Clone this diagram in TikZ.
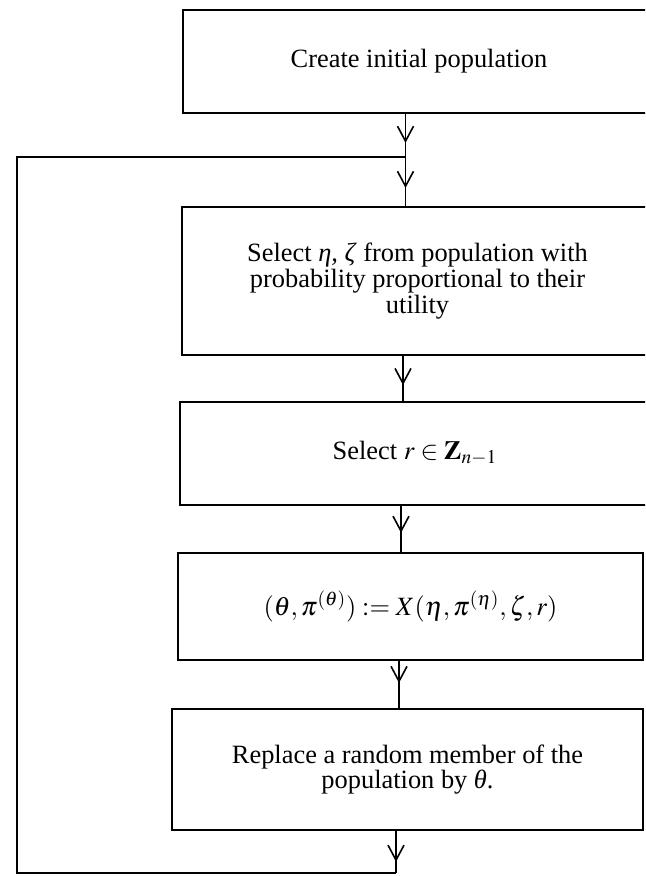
\documentclass[tikz,border=0pt]{standalone}
\usepackage{mathptmx}
\usepackage{fontspec}
\setmainfont{Liberation Serif}
\usetikzlibrary{arrows.meta,decorations.markings}
\tikzset{
  box/.style={draw, line width=1pt, inner sep=0pt, outer sep=0pt, align=center,
    font=\fontsize{13.2}{10.8}\selectfont},
  link/.style={line width=0.75pt},
  flowat/.style={link, postaction={decorate}, decoration={markings,
    mark=at position #1 with {\arrow[line width=0.8pt]{Straight Barb[length=7.5pt,width=8pt]}}}},
}
\begin{document}
\begin{tikzpicture}[x=0.5pt,y=-0.5pt]
\useasboundingbox (0,0) rectangle (645,876);
\clip (0,0) rectangle (645,876);
\node[box, minimum width=236pt, minimum height=51.5pt] (b1) at (419,61.5) {Create initial population};
\node[box, minimum width=235.5pt, minimum height=74pt] (b2) at (417.5,281)
  {Select \textit{η, ζ} from population with\\probability proportional to their\\utility};
\node[box, minimum width=235pt, minimum height=51.5pt] (b3) at (415,453.5) {Select $r\in\mathbf{Z}_{n-1}$};
\node[box, minimum width=232.5pt, minimum height=53.5pt] (b4) at (410.5,606.5)
  {$(\theta,\pi^{(\theta)}) := X(\eta,\pi^{(\eta)},\zeta,r)$};
\node[box, minimum width=235.5pt, minimum height=60.5pt, font=\fontsize{13.2}{12.4}\selectfont] (b5) at (407.5,769.5)
  {Replace a random member of the\\population by \textit{θ}.};
\coordinate (j) at (405.5,157);
\coordinate (e) at (396,873);
\coordinate (lb) at (17,873);
\coordinate (lt) at (17,157);
\draw[flowat=0.68] ([xshift=-6.75pt]b1.south) -- (j);
\draw[flowat=0.62] (j) -- ([xshift=-6pt]b2.north);
\draw[flowat=0.64] ([xshift=-7.25pt]b2.south) -- ([xshift=-6pt]b3.north);
\draw[flowat=0.58] ([xshift=-7pt]b3.south) -- ([xshift=-4.75pt]b4.north);
\draw[flowat=0.47] ([xshift=-5.75pt]b4.south) -- ([xshift=-4.25pt]b5.north);
\draw[flowat=0.74] ([xshift=-5.75pt]b5.south) -- (e);
\draw[link] (e) -- (lb) -- (lt) -- (j);
\end{tikzpicture}
\end{document}
